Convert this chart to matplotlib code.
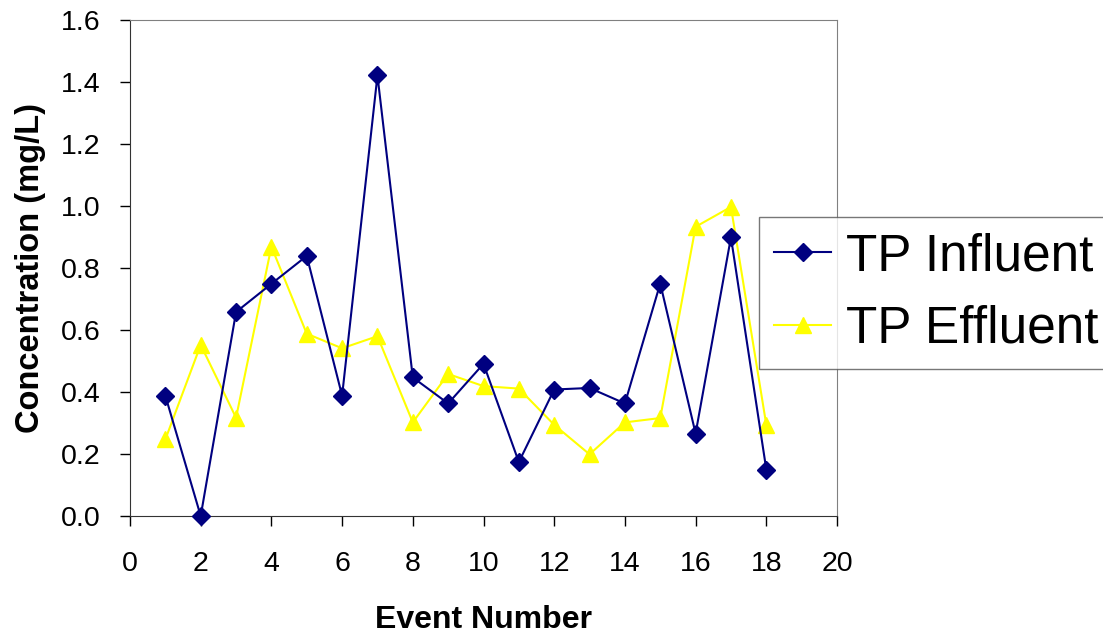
import matplotlib
matplotlib.use("Agg")
import matplotlib.pyplot as plt

plt.rcParams["font.family"] = ["Liberation Sans", "DejaVu Sans"]

events = list(range(1, 19))
tp_influent = [0.388, 0.0, 0.658, 0.749, 0.839, 0.388, 1.421, 0.447, 0.363,
               0.491, 0.174, 0.408, 0.413, 0.363, 0.750, 0.266, 0.899, 0.150]
tp_effluent = [0.247, 0.552, 0.317, 0.869, 0.588, 0.541, 0.580, 0.302, 0.458,
               0.419, 0.411, 0.294, 0.199, 0.302, 0.316, 0.933, 0.997, 0.294]

fig = plt.figure(figsize=(11.03, 6.34), dpi=100)
ax = fig.add_axes([130 / 1103, 1 - 516 / 634, 707 / 1103, 496 / 634])

ax.plot(events, tp_influent, color="#000080", marker="D", markersize=9,
        linewidth=1.5, label="TP Influent", clip_on=False, zorder=3)
ax.plot(events, tp_effluent, color="#FFFF00", marker="^", markersize=11,
        linewidth=1.5, label="TP Effluent", clip_on=False, zorder=2)

ax.set_xlim(0, 20)
ax.set_ylim(0, 1.6)
ax.set_xticks(range(0, 21, 2))
ax.set_yticks([i * 0.2 for i in range(9)])
ax.set_yticklabels([f"{i * 0.2:.1f}" for i in range(9)])
ax.tick_params(direction="out", length=7, width=1, labelsize=20.5, colors="black")
ax.tick_params(axis="y", pad=14)
ax.tick_params(axis="x", pad=18)

for side in ["top", "right"]:
    ax.spines[side].set_color("#808080")
for side in ["left", "bottom"]:
    ax.spines[side].set_color("#333333")

ax.set_xlabel("Event Number", fontsize=23, fontweight="bold", labelpad=20)
ax.set_ylabel("Concentration (mg/L)", fontsize=23.5, fontweight="bold", labelpad=11)

leg = fig.legend(loc="upper left", bbox_to_anchor=(759 / 1103, 1 - 217 / 634),
                 fontsize=37, frameon=True, fancybox=False, handlelength=1.1,
                 handletextpad=0.3, labelspacing=0.45, borderpad=0.3,
                 borderaxespad=0)
leg.get_frame().set_edgecolor("#555555")
leg.get_frame().set_linewidth(1)

plt.savefig("out.png", dpi=100)
